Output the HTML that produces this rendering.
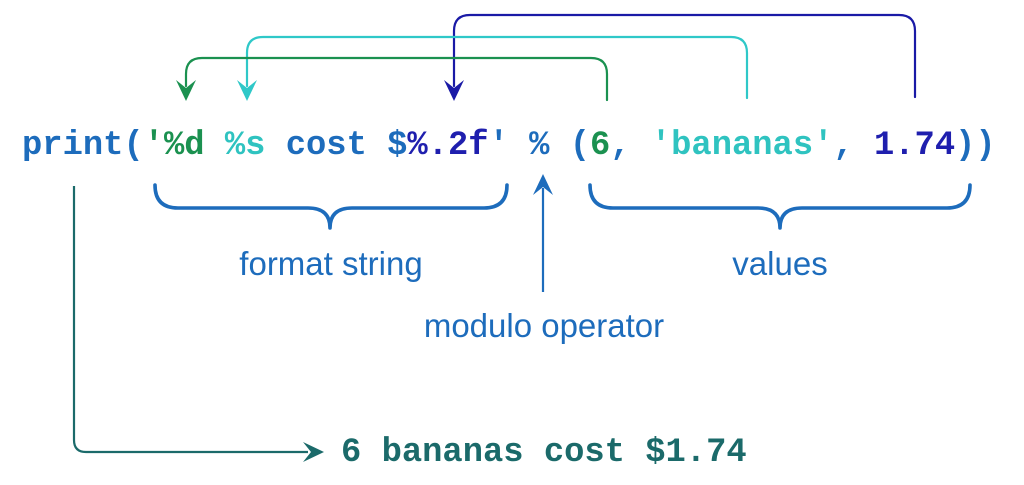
<!DOCTYPE html>
<html>
<head>
<meta charset="utf-8">
<style>
  html,body{margin:0;padding:0;background:#fff;}
  svg{display:block;}
</style>
</head>
<body>
<svg width="1024" height="485" viewBox="0 0 1024 485" xmlns="http://www.w3.org/2000/svg">
  <rect width="1024" height="485" fill="#ffffff"/>

  <!-- top connectors -->
  <g fill="none" stroke-width="2.2" stroke-linecap="round">
    <!-- navy -->
    <path d="M915,97 L915,31 Q915,15 899,15 L470,15 Q454,15 454,31 L454,86" stroke="#1a1aa6"/>
    <!-- cyan -->
    <path d="M747,98 L747,53 Q747,37 731,37 L263,37 Q247,37 247,53 L247,86" stroke="#2fc8c8"/>
    <!-- green -->
    <path d="M607,100 L607,74 Q607,58 591,58 L202,58 Q186,58 186,74 L186,86" stroke="#1b9150"/>
  </g>
  <!-- arrowheads -->
  <path d="M454,101 L444,80 L454,88 L464,80 Z" fill="#1a1aa6"/>
  <path d="M247,101 L237,80 L247,88 L257,80 Z" fill="#2fc8c8"/>
  <path d="M186,101 L176,80 L186,88 L196,80 Z" fill="#1b9150"/>

  <!-- code line -->
  <text x="22" y="154" font-family="'Liberation Mono', monospace" font-weight="bold" font-size="33.8" xml:space="preserve"><tspan fill="#1d6cbc">print(</tspan><tspan fill="#1b9150">'%d</tspan><tspan fill="#1d6cbc"> </tspan><tspan fill="#2fc3c0">%s</tspan><tspan fill="#1d6cbc"> cost $</tspan><tspan fill="#1f1fae">%.2f</tspan><tspan fill="#1d6cbc">' % (</tspan><tspan fill="#1b9150">6</tspan><tspan fill="#1d6cbc">, </tspan><tspan fill="#2fc3c0">'bananas'</tspan><tspan fill="#1d6cbc">, </tspan><tspan fill="#1f1fae">1.74</tspan><tspan fill="#1d6cbc">))</tspan></text>

  <!-- braces -->
  <g fill="none" stroke="#1d6cbc" stroke-width="3.6" stroke-linecap="round" stroke-linejoin="round">
    <path d="M155,185 Q155,208 178,208 L308,208 Q330,208 330,228 Q330,208 352,208 L484,208 Q507,208 507,185"/>
    <path d="M590,185 Q590,208 613,208 L758,208 Q780,208 780,228 Q780,208 802,208 L947,208 Q970,208 970,185"/>
  </g>

  <!-- modulo arrow -->
  <line x1="543" y1="292" x2="543" y2="188" stroke="#1d6cbc" stroke-width="2.2"/>
  <path d="M543,174 L533,195 L543,187 L553,195 Z" fill="#1d6cbc"/>

  <!-- labels -->
  <g font-family="'Liberation Sans', sans-serif" font-size="33" fill="#1d6cbc" text-anchor="middle">
    <text x="331" y="275">format string</text>
    <text x="780" y="275">values</text>
    <text x="544" y="337">modulo operator</text>
  </g>

  <!-- output connector -->
  <path d="M74,186 L74,440 Q74,452 86,452 L308,452" fill="none" stroke="#1b6a6a" stroke-width="2.2"/>
  <path d="M324,452 L303,442 L311,452 L303,462 Z" fill="#1b6a6a"/>

  <text x="341" y="461" font-family="'Liberation Mono', monospace" font-weight="bold" font-size="33.8" fill="#1b6a6a" xml:space="preserve">6 bananas cost $1.74</text>
</svg>
</body>
</html>
